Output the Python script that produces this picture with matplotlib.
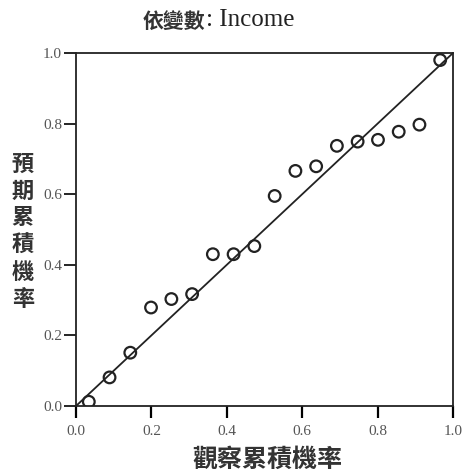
import matplotlib.pyplot as plt

observed = [0.034, 0.089, 0.144, 0.199, 0.253, 0.308, 0.363, 0.418, 0.473,
            0.527, 0.582, 0.637, 0.692, 0.747, 0.801, 0.856, 0.911, 0.966]
expected = [0.012, 0.081, 0.151, 0.279, 0.303, 0.317, 0.430, 0.430, 0.453,
            0.595, 0.666, 0.679, 0.737, 0.749, 0.754, 0.777, 0.797, 0.980]
ticks = [0.0, 0.2, 0.4, 0.6, 0.8, 1.0]
tick_labels = ["0.0", "0.2", "0.4", "0.6", "0.8", "1.0"]

serif = ["Liberation Serif", "Noto Sans CJK TC"]
cjk = ["Noto Sans CJK TC", "DejaVu Sans"]

fig = plt.figure(figsize=(4.67, 4.74), dpi=100)
ax = fig.add_axes([76 / 467, 1 - 406 / 474, 377 / 467, 353 / 474])

# reference line
ax.plot([0, 1], [0, 1], color="#222222", lw=1.3)
ax.scatter(observed, expected, s=70, facecolors="none", edgecolors="#222222",
           linewidths=1.6, zorder=3)

ax.set_xlim(0, 1)
ax.set_ylim(0, 1)
ax.set_xticks(ticks)
ax.set_yticks(ticks)
ax.set_xticklabels(tick_labels, family=serif, fontsize=11, color="#555555")
ax.set_yticklabels(tick_labels, family=serif, fontsize=11, color="#555555")
ax.tick_params(axis="x", direction="out", length=8.5, width=1.6, pad=5)
ax.tick_params(axis="y", direction="out", length=9, width=1.2, pad=1)
for sp in ax.spines.values():
    sp.set_linewidth(1.3)
    sp.set_color("#222222")

# title: chinese part bold, english part serif
fig.text(205 / 467, 1 - 21 / 474, "依變數", family=cjk, fontsize=15,
         fontweight="bold", ha="right", va="center", color="#333333")
fig.text(206 / 467, 1 - 20 / 474, ": Income", family=serif, fontsize=18,
         ha="left", va="center", color="#222222")

fig.text(267 / 467, 1 - 460 / 474, "觀察累積機率", family=cjk, fontsize=18,
         fontweight="bold", ha="center", va="center", color="#333333")

# vertical stacked y label
ylab = "預期累積機率"
for i, ch in enumerate(ylab):
    fig.text(23 / 467, 1 - (164 + i * 27) / 474, ch, family=cjk, fontsize=16,
             fontweight="bold", ha="center", va="center", color="#333333")

fig.savefig("out.png", dpi=100)
